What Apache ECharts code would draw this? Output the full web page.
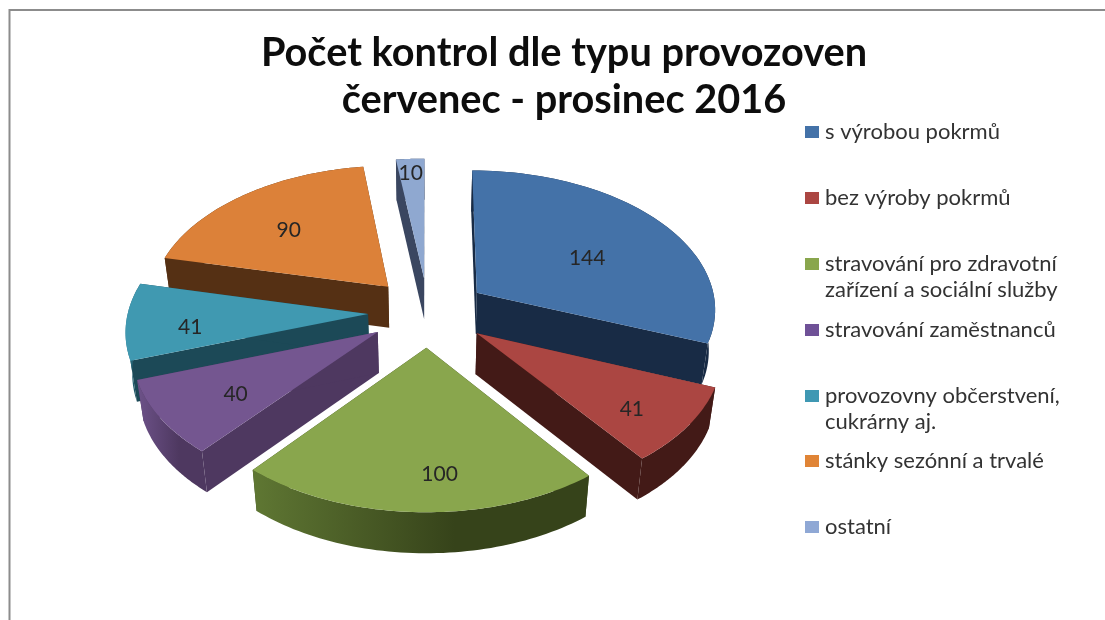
<!DOCTYPE html>
<html>
<head>
<meta charset="utf-8">
<style>html,body{margin:0;padding:0;background:#fff}#main{width:1105px;height:620px}</style>
<script src="https://cdn.jsdelivr.net/npm/echarts@6/dist/echarts.min.js"></script>
</head>
<body>
<div id="main"></div>
<script>
var titleText = 'Počet kontrol dle typu provozoven\nčervenec - prosinec 2016';
var categories = ['s výrobou pokrmů', 'bez výroby pokrmů', 'stravování pro zdravotní\nzařízení a sociální služby',
    'stravování zaměstnanců', 'provozovny občerstvení,\ncukrárny aj.', 'stánky sezónní a trvalé', 'ostatní'];
var values = [144, 41, 100, 40, 41, 90, 10];

// barvy: vrsek, bok, okraj vlevo, okraj vpravo
var topColors = ['#4472a8', '#ab4642', '#89a64d', '#745690', '#4099b1', '#dc8139', '#8fa8d0'];
var sideColors = ['#182b45', '#431a17', '#36431a', '#4e3860', '#1c4957', '#553014', '#3a4660'];
var rimLeft = ['#182b45', '#431a17', '#5f7733', '#6d5289', '#2f7d93', '#553014', '#3a4660'];
var rimRight = ['#182b45', '#431a17', '#36431a', '#4e3860', '#1c4957', '#553014', '#3a4660'];
var legendColors = ['#4472a8', '#ab4642', '#89a64d', '#6f5197', '#3f98b3', '#e08436', '#8fa8d5'];

// poradi kresleni odzadu dopredu
var drawRank = [4, 5, 6, 3, 2, 1, 0];
// posun popisku od stredu vysece
var labelShift = [[-10, 13], [21, 17], [18, 24], [-4, 8], [-21, 8], [-3, 4], [-4, -25]];
// y pozice radku legendy
var legendY = [132, 198, 264, 330, 396, 461, 527];

var cx = 428, cy = 312, radiusX = 240, radiusY = 139;
var explode = 0.25, persp = 0.106, depth = 41, bottomScale = 0.978;

var total = values.reduce(function (a, b) { return a + b; }, 0);

function sliceAngles(index) {
    var before = 0;
    for (var i = 0; i < index; i++) before += values[i];
    return [before / total * Math.PI * 2, (before + values[index]) / total * Math.PI * 2];
}

// promitnuti bodu na kolac, r je 0-1, theta od vrchu po smeru hodin
function project(mid, r, theta, low) {
    var u = explode * Math.sin(mid) + r * Math.sin(theta);
    var v = -explode * Math.cos(mid) - r * Math.cos(theta);
    var s = 1 / (1 - persp * v);
    var x = u * s * radiusX;
    var y = cy + v * s * radiusY;
    if (low) return [cx + x * bottomScale, y + depth];
    return [cx + x, y];
}

function renderSlice(params, api) {
    var i = params.dataIndex;
    var a = sliceAngles(i);
    var mid = (a[0] + a[1]) / 2;
    var z = drawRank[i] * 10;
    var steps = 60, j, t;
    var arcTop = [], arcLow = [];
    for (j = 0; j <= steps; j++) {
        t = a[0] + (a[1] - a[0]) * j / steps;
        arcTop.push(project(mid, 1, t, false));
        arcLow.push(project(mid, 1, t, true));
    }
    var apexTop = project(mid, 0, 0, false);
    var apexLow = project(mid, 0, 0, true);
    var children = [];
    children.push({
        type: 'polygon', z2: z,
        shape: { points: [apexTop, arcTop[0], arcLow[0], apexLow] },
        style: { fill: sideColors[i] }
    });
    children.push({
        type: 'polygon', z2: z,
        shape: { points: [apexTop, arcTop[steps], arcLow[steps], apexLow] },
        style: { fill: sideColors[i] }
    });
    children.push({
        type: 'polygon', z2: z + 1,
        shape: { points: arcTop.concat(arcLow.slice().reverse()) },
        style: {
            fill: new echarts.graphic.LinearGradient(0, 0, 1, 0, [
                { offset: 0, color: rimLeft[i] },
                { offset: 0.6, color: rimRight[i] },
                { offset: 1, color: rimRight[i] }
            ])
        }
    });
    children.push({
        type: 'polygon', z2: z + 2,
        shape: { points: [apexTop].concat(arcTop) },
        style: { fill: topColors[i] }
    });
    var lab = project(mid, 0.65, mid, false);
    children.push({
        type: 'text', z2: 100,
        style: {
            text: String(api.value(0)),
            x: lab[0] + labelShift[i][0],
            y: lab[1] + labelShift[i][1],
            align: 'center', verticalAlign: 'middle',
            fill: '#262626',
            font: '21px Lato'
        }
    });
    return { type: 'group', children: children };
}

var myChart = echarts.init(document.getElementById('main'), null, { renderer: 'canvas' });

var graphics = [{
    type: 'polyline',
    shape: { points: [[9.5, 620], [9.5, 10], [1105, 10]] },
    style: { stroke: '#8c8c8c', lineWidth: 2, fill: null }
}];
for (var k = 0; k < categories.length; k++) {
    graphics.push({
        type: 'rect',
        shape: { x: 805, y: legendY[k] - 6, width: 14, height: 12 },
        style: { fill: legendColors[k] }
    });
    graphics.push({
        type: 'text',
        style: {
            text: categories[k],
            x: 825, y: legendY[k] - 13,
            fill: '#333333',
            font: '22px Lato',
            lineHeight: 26
        }
    });
}

myChart.setOption({
    animation: false,
    backgroundColor: '#ffffff',
    title: {
        text: titleText,
        left: 559,
        top: 25,
        textAlign: 'center',
        textStyle: { fontFamily: 'Lato', fontWeight: 'bold', fontSize: 39.7, lineHeight: 47, color: '#0d0d0d' }
    },
    graphic: graphics,
    series: [{
        type: 'custom',
        coordinateSystem: 'none',
        renderItem: renderSlice,
        silent: true,
        data: values.map(function (v, i) { return { name: categories[i], value: [v] }; })
    }]
});
</script>
</body>
</html>
